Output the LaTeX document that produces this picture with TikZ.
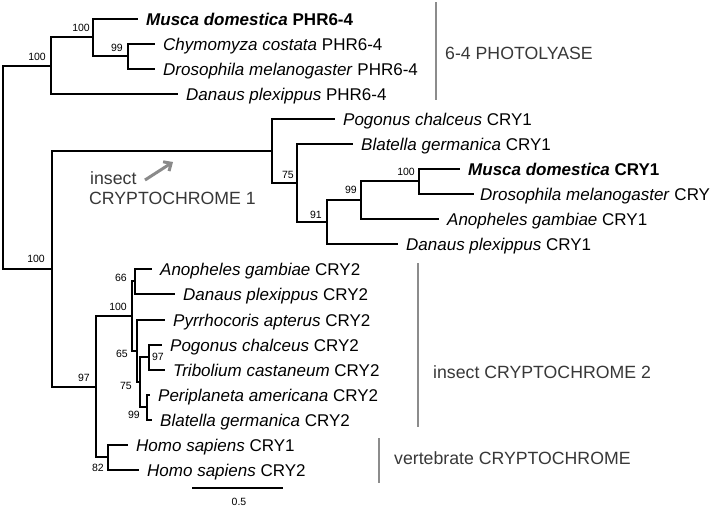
\documentclass[tikz,border=0pt]{standalone}
\usepackage{fontspec}
\setmainfont{Liberation Sans}
\usetikzlibrary{arrows.meta}
\definecolor{bargray}{HTML}{8C8C8C}
\definecolor{grptext}{HTML}{383838}
\definecolor{arrowgray}{HTML}{8A8A8A}
\begin{document}
\begin{tikzpicture}[x=1pt,y=-1pt,
  br/.style={line width=2.1pt, line join=miter},
  leaf/.style={anchor=west, inner xsep=8pt, inner ysep=0pt, font=\fontsize{17}{20}\selectfont, text height=12.2pt, text depth=0pt},
  bs/.style={anchor=east, inner sep=0pt, font=\fontsize{10.5}{12}\selectfont},
  grp/.style={anchor=west, inner sep=0pt, text=grptext, font=\fontsize{17.7}{20}\selectfont},
  bar/.style={draw=bargray, line width=2pt}]
\fill[white] (0,0) rectangle (711,509);
\useasboundingbox (0,0) rectangle (711,509);

% leaves
\node[leaf] (l0) at (138,19) {\textbf{\textit{Musca domestica} PHR6-4}};
\node[leaf] (l1) at (155,44) {\textit{Chymomyza costata} PHR6-4};
\node[leaf] (l2) at (155,69) {\textit{Drosophila melanogaster} PHR6-4};
\node[leaf] (l3) at (178,94) {\textit{Danaus plexippus} PHR6-4};
\node[leaf] (l4) at (335,119) {\textit{Pogonus chalceus} CRY1};
\node[leaf] (l5) at (353,144) {\textit{Blatella germanica} CRY1};
\node[leaf] (l6) at (460,169) {\textbf{\textit{Musca domestica} CRY1}};
\node[leaf, inner xsep=6pt] (l7) at (474,194) {\textit{Drosophila melanogaster} CRY};
\node[leaf] (l8) at (439,219) {\textit{Anopheles gambiae} CRY1};
\node[leaf] (l9) at (398,244) {\textit{Danaus plexippus} CRY1};
\node[leaf] (l10) at (152,269) {\textit{Anopheles gambiae} CRY2};
\node[leaf] (l11) at (175,294) {\textit{Danaus plexippus} CRY2};
\node[leaf] (l12) at (165,320) {\textit{Pyrrhocoris apterus} CRY2};
\node[leaf] (l13) at (162,345) {\textit{Pogonus chalceus} CRY2};
\node[leaf] (l14) at (165,370) {\textit{Tribolium castaneum} CRY2};
\node[leaf] (l15) at (150,395) {\textit{Periplaneta americana} CRY2};
\node[leaf] (l16) at (152,420) {\textit{Blatella germanica} CRY2};
\node[leaf] (l17) at (128,445) {\textit{Homo sapiens} CRY1};
\node[leaf] (l18) at (139,470) {\textit{Homo sapiens} CRY2};

% internal nodes
\coordinate (root) at (3,167);
\coordinate (nPHR) at (51,66);
\coordinate (nA) at (93,37);
\coordinate (nB) at (128,56);
\coordinate (nCRY) at (52,269);
\coordinate (nCRY1) at (272,151);
\coordinate (nC) at (297,183);
\coordinate (nD) at (327,222);
\coordinate (nE) at (361,200);
\coordinate (nF) at (419,181);
\coordinate (nCRY2) at (96,387);
\coordinate (n100) at (132,316);
\coordinate (n66) at (135,281);
\coordinate (n65) at (137,351);
\coordinate (n75) at (140,382);
\coordinate (n97) at (149,357);
\coordinate (n99) at (147,407);
\coordinate (nHomo) at (108,457);

% branches
\draw[br] (root) |- (nPHR);
\draw[br] (root) |- (nCRY);
\draw[br] (nPHR) |- (nA);
\draw[br] (nPHR) |- (l3.west);
\draw[br] (nA) |- (l0.west);
\draw[br] (nA) |- (nB);
\draw[br] (nB) |- (l1.west);
\draw[br] (nB) |- (l2.west);
\draw[br] (nCRY) |- (nCRY1);
\draw[br] (nCRY) |- (nCRY2);
\draw[br] (nCRY1) |- (l4.west);
\draw[br] (nCRY1) |- (nC);
\draw[br] (nC) |- (l5.west);
\draw[br] (nC) |- (nD);
\draw[br] (nD) |- (nE);
\draw[br] (nD) |- (l9.west);
\draw[br] (nE) |- (nF);
\draw[br] (nE) |- (l8.west);
\draw[br] (nF) |- (l6.west);
\draw[br] (nF) |- (l7.west);
\draw[br] (nCRY2) |- (n100);
\draw[br] (nCRY2) |- (nHomo);
\draw[br] (n100) |- (n66);
\draw[br] (n100) |- (n65);
\draw[br] (n66) |- (l10.west);
\draw[br] (n66) |- (l11.west);
\draw[br] (n65) |- (l12.west);
\draw[br] (n65) |- (n75);
\draw[br] (n75) |- (n97);
\draw[br] (n75) |- (n99);
\draw[br] (n97) |- (l13.west);
\draw[br] (n97) |- (l14.west);
\draw[br] (n99) |- (l15.west);
\draw[br] (n99) |- (l16.west);
\draw[br] (nHomo) |- (l17.west);
\draw[br] (nHomo) |- (l18.west);

% bootstrap values
\node[bs] (bPHR) at (46,57) {100};
\node[bs] (bA) at (90,28) {100};
\node[bs] (bB) at (123,48) {99};
\node[bs] (bCRY) at (45,259) {100};
\node[bs] (bC) at (294,175) {75};
\node[bs] (bD) at (322,215) {91};
\node[bs] (bE) at (357,190) {99};
\node[bs] (bF) at (415,172) {100};
\node[bs] (bCRY2) at (90,378) {97};
\node[bs] (b100) at (127,307) {100};
\node[bs] (b66) at (127,278) {66};
\node[bs] (b65) at (128,354) {65};
\node[bs] (b97) at (164,357) {97};
\node[bs] (b75) at (132,386) {75};
\node[bs] (b99) at (140,415) {99};
\node[bs] (bHomo) at (104,468) {82};

% group bars and labels
\coordinate (g1a) at (436,2);
\coordinate (g1b) at (436,100);
\draw[bar] (g1a) -- (g1b);
\node[grp] (g1) at (445,53) {6-4 PHOTOLYASE};
\coordinate (g2a) at (418,263);
\coordinate (g2b) at (418,427);
\draw[bar] (g2a) -- (g2b);
\node[grp] (g2) at (433,372) {insect CRYPTOCHROME 2};
\coordinate (g3a) at (379,438);
\coordinate (g3b) at (379,483);
\draw[bar] (g3a) -- (g3b);
\node[grp] (g3) at (394,458) {vertebrate CRYPTOCHROME};
\node[grp] (c1a) at (90,178) {insect};
\node[grp] (c1b) at (89,198) {CRYPTOCHROME 1};
\coordinate (arA) at (145,180);
\coordinate (arB) at (173,162);
\draw[draw=arrowgray, line width=3pt, -{Straight Barb[length=6pt,width=11pt]}] (arA) -- (arB);

% scale bar
\coordinate (s1) at (192,488);
\coordinate (s2) at (283,488);
\draw[line width=2pt] (s1) -- (s2);
\node[inner sep=0pt, font=\fontsize{10.5}{12}\selectfont] (sl) at (239,502) {0.5};
\end{tikzpicture}
\end{document}
